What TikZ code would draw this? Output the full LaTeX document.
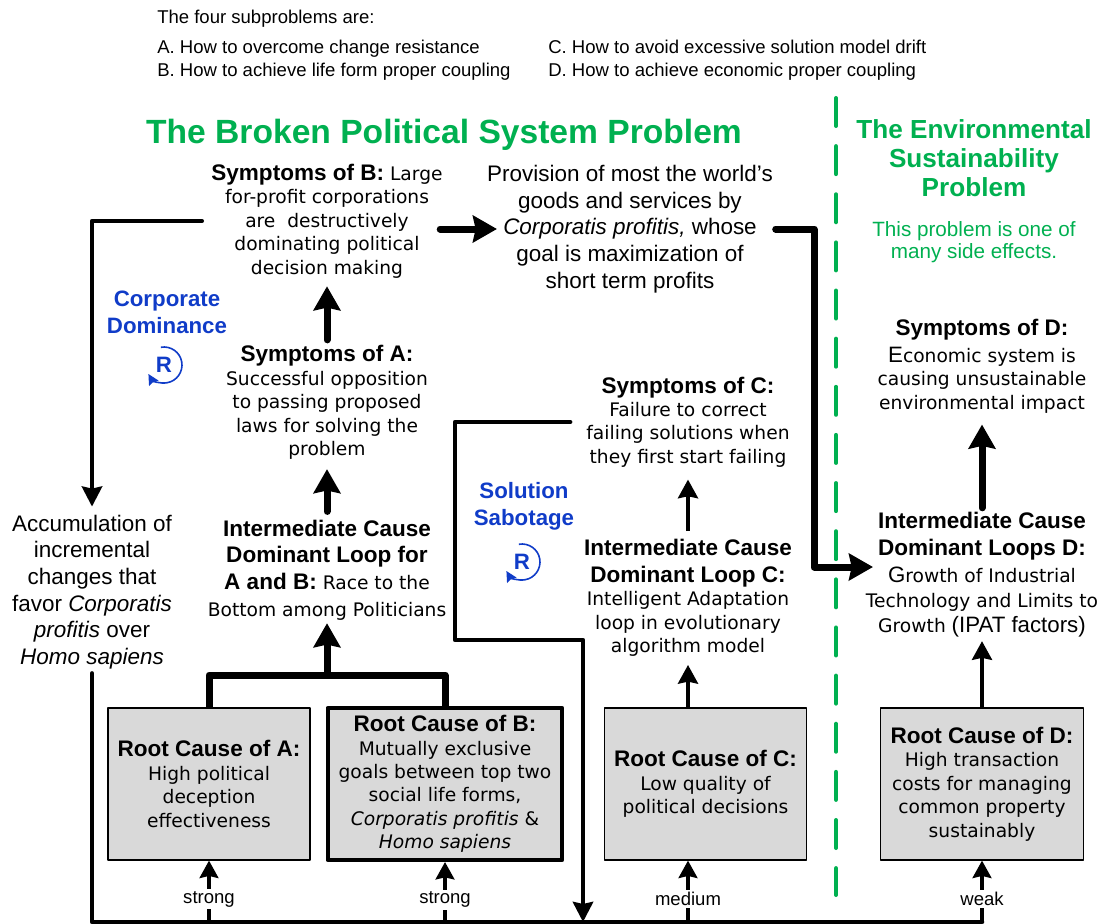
\documentclass[tikz,border=0pt]{standalone}
\usepackage{fontspec}
\setmainfont{Liberation Sans}
\newfontfamily\vfam{DejaVu Sans}
\usetikzlibrary{arrows.meta,calc}
\definecolor{probgreen}{RGB}{0,176,80}
\definecolor{loopblue}{RGB}{16,60,200}
\newcommand{\hd}[1]{{\rmfamily\bfseries\fontsize{16.9}{20}\selectfont #1}}
\newcommand{\ar}[1]{{\rmfamily\fontsize{16.7}{20}\selectfont #1}}

\begin{document}
\begin{tikzpicture}[x=0.75pt, y=-0.75pt, line join=round]
\tikzstyle{intro}=[anchor=base west, inner sep=0pt, font=\fontsize{13.9}{15}\selectfont]
\tikzstyle{body}=[align=center, inner sep=0pt, font=\vfam\fontsize{14}{17.6}\selectfont]
\tikzstyle{plain}=[align=center, inner sep=0pt, font=\fontsize{16.85}{20}\selectfont]
\tikzstyle{rootbox}=[body, draw=black, line width=0.9pt, fill=black!15, minimum height=114pt]
\tikzstyle{loopname}=[align=center, inner sep=0pt, text=loopblue, font=\bfseries\fontsize{16.7}{20.2}\selectfont]
\tikzstyle{loopR}=[inner sep=0pt, text=loopblue, font=\bfseries\fontsize{16.7}{18}\selectfont]
\tikzstyle{rate}=[inner sep=1.5pt, fill=white, font=\fontsize{13.9}{15}\selectfont]
\tikzstyle{thickline}=[line width=5.25pt, line cap=round, -{Stealth[length=18pt,width=20pt,inset=2pt]}]
\tikzstyle{midline}=[line width=3.4pt, line cap=round, -{Stealth[length=15pt,width=15pt,inset=1.5pt]}]
\tikzstyle{thinline}=[line width=2.7pt, -{Stealth[length=14pt,width=15pt,inset=1.5pt]}]
\tikzstyle{smallline}=[line width=2.7pt, -{Stealth[length=13pt,width=14pt,inset=1.5pt]}]
\tikzstyle{looparc}=[draw=loopblue, line width=1.2pt, -{Stealth[length=8pt,width=8pt,inset=1pt]}]

\useasboundingbox (0,0) rectangle (1117,924);

% the four subproblems
\node[intro] (intro) at (157,24) {The four subproblems are:};
\node[intro] (subA) at (157,54) {A. How to overcome change resistance};
\node[intro] (subB) at (157,77) {B. How to achieve life form proper coupling};
\node[intro] (subC) at (548,54) {C. How to avoid excessive solution model drift};
\node[intro] (subD) at (548,77) {D. How to achieve economic proper coupling};

% headings
\node[text=probgreen, inner sep=0pt, font=\bfseries\fontsize{25.2}{30}\selectfont] (title) at (444,135) {The Broken Political System Problem};
\node[align=center, text=probgreen, inner sep=0pt, font=\bfseries\fontsize{19.6}{21.7}\selectfont] (titleE) at (974,158) {The Environmental\\Sustainability\\Problem};
\node[align=center, text=probgreen, inner sep=0pt, font=\fontsize{15.5}{16.6}\selectfont] (noteE) at (974,242) {This problem is one of\\many side effects.};

% symptoms and causes
\node[body] (symB) at (327,221) {\hd{Symptoms of B:} Large\\for-profit corporations\\are\ \ destructively\\dominating political\\decision making};
\node[plain] (prov) at (630,229) {Provision of most the world's\\goods and services by\\\textit{Corporatis profitis,} whose\\goal is maximization of\\short term profits};
\node[body] (symA) at (327,402.5) {\hd{Symptoms of A:}\\Successful opposition\\to passing proposed\\laws for solving the\\problem};
\node[body] (intAB) at (327,570) {\hd{Intermediate Cause}\\[2.5pt]\hd{Dominant Loop for}\\[2.5pt]\hd{A and B:} Race to the\\[2.5pt]Bottom among Politicians};
\node[body] (symC) at (688,422) {\hd{Symptoms of C:}\\Failure to correct\\failing solutions when\\they first start failing};
\node[body] (intC) at (688,598) {\hd{Intermediate Cause}\\[2.5pt]\hd{Dominant Loop C:}\\Intelligent Adaptation\\loop in evolutionary\\algorithm model};
\node[body] (symD) at (982,366) {\hd{Symptoms of D:}\\[2.5pt]\ar{E}conomic system is\\causing unsustainable\\environmental impact};
\node[body] (intD) at (982,574.5) {\hd{Intermediate Cause}\\[2.5pt]\hd{Dominant Loops D:}\\[3pt]\ar{G}rowth of Industrial\\[1pt]Technology and Limits to\\[1pt]Growth \ar{(IPAT factors)}};
\node[plain] (accum) at (92,592) {Accumulation of\\incremental\\changes that\\favor \textit{Corporatis}\\\textit{profitis} over\\\textit{Homo sapiens}};

% root causes
\node[rootbox, minimum width=151.5pt] (rootA) at (209,784) {\hd{Root Cause of A:}\\High political\\deception\\effectiveness};
\node[rootbox, minimum width=176pt, line width=3pt] (rootB) at (445,784) {\hd{Root Cause of B:}\\Mutually exclusive\\goals between top two\\social life forms,\\\textit{Corporatis profitis} \&\\\textit{Homo sapiens}};
\node[rootbox, minimum width=151pt] (rootC) at (705.5,784) {\hd{Root Cause of C:}\\Low quality of\\political decisions};
\node[rootbox, minimum width=152pt] (rootD) at (982,784) {\hd{Root Cause of D:}\\High transaction\\costs for managing\\common property\\sustainably};

% loop names
\node[loopname] (nameCD) at (167,312) {Corporate\\Dominance};
\node[loopR] (loopCD) at (164,365) {R};
\node[loopname] (nameSS) at (524,506) {Solution\\Sabotage};
\node[loopR] (loopSS) at (522,562) {R};
\foreach \x in {loopCD, loopSS}
{\draw[looparc] ([shift={(-100:18)}]\x.center) arc[start angle=-100, end angle=150, radius=18];}

% free ends of the connectors
\coordinate (busL) at (92,922);
\coordinate (busD) at (982,922);
\coordinate (busIn) at (583,922);
\coordinate (turnC) at (455,640);
\coordinate (forkT) at (327,675);
\coordinate (provIn) at (873,567);

% dashed divider
\coordinate (divT) at (836,98);
\coordinate (divB) at (836,895);
\draw[draw=probgreen, line width=3pt, line cap=round, dash pattern=on 21pt off 15.1pt] (divT) -- (divB);

% arrows
\draw[thickline, shorten <=4pt, shorten >=6pt] (symA.north) -- (symB.south);
\draw[thickline, shorten <=6pt, shorten >=7pt] (intAB.north) -- (symA.south);
\draw[thickline, shorten >=-7.5pt, shorten <=-2pt] (symB.east |- prov.west) -- (prov.west);
\draw[thickline, shorten <=2pt] (prov.east) -| ($(prov.east)!0.41!(provIn)$) |- (provIn);
\draw[thickline, shorten <=3pt, shorten >=8.5pt] (intD.north) -- (symD.south);
\draw[thinline, shorten <=6pt, shorten >=9pt] (intC.north) -- (symC.south);
\draw[thinline, shorten >=6pt] (rootC.north -| intC) -- (intC.south);
\draw[thinline, shorten >=3pt] (rootD.north) -- (intD.south);
\draw[line width=5.25pt] (rootA.north) |- (rootB.north |- forkT) -- (rootB.north);
\draw[thickline, shorten >=2pt] (forkT) -- (intAB.south);

\draw[midline, shorten <=7pt, shorten >=6pt] (symB.west) -| (accum.north);
\draw[midline, shorten <=12pt] (symC.west) -| (turnC) -| (busIn);
\draw[line width=3.4pt, line cap=round, shorten <=3pt] (accum.south) -- (busL) -- (busD);
\foreach \b/\a/\t in {rootA/rootA/strong, rootB/rootB/strong, intC/rootC/medium, rootD/rootD/weak}
{\draw[smallline] (\b |- busL) -- (\b |- \a.south)
   node[rate, pos=0.37] (rate\a) {\t};}
\end{tikzpicture}
\end{document}
